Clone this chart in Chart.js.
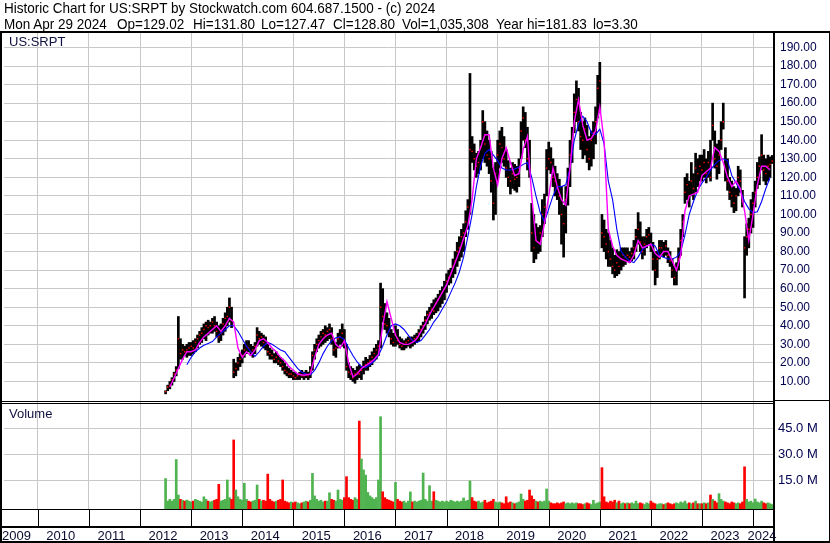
<!DOCTYPE html>
<html><head><meta charset="utf-8">
<script src="https://cdn.jsdelivr.net/npm/chart.js@4.4.1/dist/chart.umd.min.js"></script>
<style>
html,body{margin:0;padding:0;background:#fff;}
#wrap{position:relative;width:830px;height:543px;overflow:hidden;font-family:"Liberation Sans",Arial,sans-serif;background:#fff;}
canvas{position:absolute;left:0;top:0;}
.t{position:absolute;white-space:pre;font-size:15px;line-height:15px;color:#000;transform-origin:0 0;transform:scaleX(0.9);}
.lbl{position:absolute;white-space:pre;font-size:13px;line-height:13px;color:#101040;}
</style></head>
<body><div id="wrap"><canvas id="c" width="830" height="543"></canvas>
<div class="t" style="left:4px;top:0px">Historic Chart for US:SRPT by Stockwatch.com 604.687.1500 - (c) 2024</div>
<div class="t" style="left:4px;top:16px">Mon Apr 29 2024</div>
<div class="t" style="left:117px;top:16px">Op=129.02</div>
<div class="t" style="left:193px;top:16px">Hi=131.80</div>
<div class="t" style="left:261px;top:16px">Lo=127.47</div>
<div class="t" style="left:333px;top:16px">Cl=128.80</div>
<div class="t" style="left:402px;top:16px">Vol=1,035,308</div>
<div class="t" style="left:496px;top:16px">Year hi=181.83</div>
<div class="t" style="left:593px;top:16px">lo=3.30</div>
<div class="lbl" style="left:9px;top:35px">US:SRPT</div>
<div class="lbl" style="left:9px;top:407px">Volume</div>
</div>
<script>
// ---- data (half-month bars starting mid 2012) ----
const barStart = 2012.5;
const barStep = 1 / 24;
const lo = [
3.3,5,6,8,10,13,17,22,22,24,23,24,
24,25,26,28,30,31,33,32,35,36,36,37,
34,31,32,35,37,40,42,39,12,13,16,18,
20,23,25,26,24,23,25,29,30,29,28,27,
24,22,22,20,20,19,18,16,14,13,12,12,
11,11,11,11,12,11,12,11,12,16,22,26,
28,29,30,31,32,33,30,24,23,28,30,29,
28,16,12,11,10,9,11,12,11,14,16,16,
18,19,21,22,24,28,42,38,36,34,30,29,
29,30,28,27,27,28,29,28,29,30,31,32,
34,36,38,41,43,44,46,47,48,50,52,54,
58,62,63,66,68,72,75,77,80,88,92,100,
128,124,120,122,124,130,128,126,122,112,97,100,
118,125,128,126,120,115,111,114,113,112,115,130,
140,136,124,120,80,74,76,79,80,88,95,110,
124,122,115,110,108,100,84,77,90,105,115,128,
144,150,145,135,130,132,128,124,126,130,138,152,
155,82,80,76,72,72,68,66,67,68,70,72,
73,75,74,75,76,80,84,80,76,78,82,84,
80,70,62,66,76,78,77,78,74,72,66,62,
62,70,78,88,106,108,104,110,108,112,115,118,
118,120,117,120,118,140,125,119,122,135,146,118,
113,108,104,101,102,110,112,104,55,78,82,90,
93,104,114,116,124,118,116,118,120,127.47];
const hi = [
5,8,10,12,15,18,45,33,30,29,30,31,
31,32,33,35,37,39,41,42,43,42,44,45,
42,40,41,44,47,50,55,50,22,20,23,25,
27,30,32,32,30,29,31,39,37,36,35,34,
30,28,27,25,26,24,23,22,20,18,17,16,
15,15,14,15,16,15,16,15,18,26,30,33,
35,37,38,40,39,41,39,33,31,36,38,41,
38,30,20,18,17,16,18,19,18,21,23,22,
24,26,28,30,32,63,60,52,47,44,38,36,
40,38,34,33,32,33,34,34,34,35,36,38,
40,42,45,48,50,52,54,55,57,59,61,64,
68,70,71,76,80,85,88,92,95,102,108,176,
142,138,133,134,140,156,150,145,140,134,125,128,
140,145,147,142,135,129,125,128,127,126,130,150,
158,155,147,140,106,100,95,93,94,108,111,135,
139,136,130,126,122,119,115,105,115,125,140,147,
165,172,168,155,150,152,148,142,145,150,158,175,
182,100,97,92,90,86,82,78,81,80,82,82,
82,82,80,82,86,92,101,96,88,88,92,93,
90,85,80,80,86,86,85,86,82,80,76,72,
74,82,92,100,120,122,118,128,122,133,130,132,
132,135,130,134,140,160,145,138,140,150,160,136,
130,120,118,115,114,126,124,113,88,95,98,108,
112,118,128,131,143,132,130,132,131,131.8];
const cl = [
4.5,7,8,11,14,16,33,25,27,26,27,28,
29,28,31,33,35,36,38,40,39,40,42,40,
37,34,36,41,44,45,50,43,15,17,20,22,
24,27,29,28,26,27,29,35,33,34,31,30,
26,25,24,22,23,21,20,18,16,15,14,14,
13,12,13,14,13,13,14,13,16,24,27,30,
32,34,36,35,37,38,33,27,28,33,34,36,
31,18,15,14,12,14,15,14,16,18,19,20,
21,23,25,27,29,50,45,41,40,37,33,31,
35,32,30,29,30,31,32,33,32,33,34,36,
38,40,43,46,47,49,48,52,54,56,58,60,
64,66,68,72,75,80,82,88,90,96,104,135,
134,130,126,128,136,150,138,132,130,118,106,122,
132,138,136,130,125,120,118,122,119,120,125,145,
152,140,130,125,90,82,86,85,90,100,104,125,
130,128,120,118,114,110,100,95,108,120,132,140,
155,162,150,142,140,146,135,130,140,144,150,168,
172,90,88,84,80,76,72,70,74,72,76,78,
77,78,77,79,82,88,92,85,80,84,88,89,
84,76,70,76,82,82,80,83,78,75,70,66,
70,76,86,96,112,116,110,118,114,125,122,126,
124,128,122,128,120,148,130,126,132,140,150,124,
118,112,110,106,110,120,118,107,82,88,92,100,
106,112,120,126,132,124,122,126,127,128.8];
// volume in millions
const vol = [
16,3,4,3,4,27,6.5,4,3.5,3,3.6,3,
2.5,3,4,3.5,3,2.5,5.5,4,3,2.5,3,3.5,
4,12.7,3,3.5,4,15.2,5,4,38.3,9.4,5.5,4,
3.5,13.3,4,3,2.5,3,3.5,12.3,4,3,3.5,3,
18.6,4,3,2.5,3,3.5,4,15.2,3,2.5,2,2.5,
2,2.5,2,1.5,2,2.5,3,2.5,3.5,19,6,4,
3,3.5,2.5,3,3,7.8,4,3.5,3,9.4,4,3.5,
5,17.1,5,4,3.5,5,4,49.2,27.3,21,18,8,
6,5,4,5,15.2,51.7,8.4,5,4,3.5,3,2.5,
13.8,4,3,2.5,3,2,3,8.3,2.5,3,2.5,3,
3.5,19.2,4,3,11.9,3,8.4,3.5,3,2.5,3,2.5,
3,2.5,3.5,3,2.5,3,2.5,3,4.8,3,3.5,14.6,
5,3,2.5,3,2,2.5,3.5,2,2.5,3,4,2.5,
2,2.5,2,1.5,5.5,2,2.5,2,1.5,2,2.5,7.1,
4,3,3.5,9.4,6,4,3,2.5,3,2.5,3,10,
3,2,1.5,1.5,2,1.5,2,2.5,1.5,2,1.5,2,
1.5,2,1.5,1.5,1,1.5,2,1.5,1,3.5,1.5,2,
2.5,22.3,5.5,2.5,2,3,2.5,3.5,2,3,1.5,2,
1.5,2,1.5,2,1.5,3,1.5,2,1.5,1,2,1.5,
3,2,1.5,1,1.5,1.5,1,1.5,2,1.5,1,1.5,
2,1.5,2.5,2,3,1.5,2,1.5,2,3,1.5,1.5,
1.5,2,1.5,2,6.5,4,3,2,7.3,4,3,2.5,
2,1.5,2.5,2,1.5,2,1.5,2.5,22.8,4,2.5,3,
2,4.2,2.5,2,3,2,1.5,2,1.5,1];
// moving averages, monthly samples from mid 2012
const maStart = 2012.5;
const maStep = 1 / 12;
const maFast = [
null,7,12,17,22,26,26,27,31,34,36,38,
40,37,40,44,42,28,23,26,24,27,32,33,
31,28,26,23,21,18,16,14,13.5,13.5,14,23,
30,33,35,36,30,28,32,20,12.5,14,17,18.5,
20,22,24.5,40,53,44,35,31,30,30,31,33,
37,41,46,50,54,58,62,68,74,80,87,94,
108,130,136,143,143,125,116,130,136,128,121,122,
135,142,110,86,84,95,110,125,115,108,105,125,
150,162,148,140,141,145,158,140,92,83,78,76,
75,74,78,86,82,83,84,79,77,80,80,75,
70,78,102,110,111,112,121,123,125,136,134,128,
120,115,118,114,102,86,100,116,126,126,124];
const maSlow = [
null,null,null,null,null,19,23,26,28,29.5,30.5,31.5,
34,36,38,40,40,37,33,29,26,23.5,26,29,
31,30,28.5,27,26,23,20,17,15,14,13.5,16,
20,25,29,32,33.5,34,32.5,28,24,20.5,18,17.5,
19,21,24,29,35,40,41,40,38,35,32,31,
32,35,38,42,45,49,53,58,63,69,77,88,
100,115,126,133,135,132,129,125,124,124,124.5,125.5,
127,128,120,110,101,96,103,110,115,115,116,125,
140,149,153,150,144,143,146,138,118,108,92,80,
77,75,74,77,81,83,84,83,78,77,76,76,
77,80,89,100,107,113,117,120,124,127,129,130,
129,121,117,113,107,103,101,101.5,107,114,120];
// axes
const years = ['2009','2010','2011','2012','2013','2014','2015','2016','2017','2018','2019','2020','2021','2022','2023','2024'];
const priceTicks = [10,20,30,40,50,60,70,80,90,100,110,120,130,140,150,160,170,180,190];
const volTicks = [15,30,45];
const X_MIN = 2009.337, X_MAX = 2024.39;
const P_MIN = -1.08, P_MAX = 197.8;
const V_MIN = -1.56, V_MAX = 60.2;

// ---- build datasets ----
const xBar = i => barStart + i * barStep;
const priceBars = hi.map((h, i) => ({x: xBar(i), y: [lo[i], h]}));
const closePts = cl.map((c, i) => ({x: xBar(i), y: c}));
const volBars = vol.map((v, i) => ({x: xBar(i), y: v}));
const GREEN = '#4fb34f', RED = '#ff0000';
const volColors = vol.map((v, i) => (i === 0 || cl[i] >= cl[i - 1]) ? GREEN : RED);
const maPts = arr => arr.map((v, j) => ({x: maStart + j * maStep, y: v})).filter(p => p.y !== null);
const yearStarts = years.slice(1).map(Number);

const frame = {
  id: 'frame',
  afterDraw(chart) {
    const ctx = chart.ctx, xs = chart.scales.x, ca = chart.chartArea;
    const sep = Math.round(chart.scales.y.bottom);
    const R = Math.round(ca.right), B = Math.round(ca.bottom);
    ctx.save();
    ctx.fillStyle = '#000';
    ctx.fillRect(0, 31, 830, 2);
    ctx.fillRect(0, 31, 2, 512);
    ctx.fillRect(R, 31, 2, 512);
    ctx.fillRect(829, 31, 1, 512);
    ctx.fillRect(0, sep - 1, R, 1);
    ctx.fillRect(0, sep + 1, R, 1);
    ctx.fillRect(R, sep - 2, 830 - R, 1);
    ctx.fillRect(0, B, R, 1);
    ctx.fillRect(0, B + 17, R, 2);
    ctx.fillRect(0, 541, 830, 2);
    yearStarts.forEach(v => {
      const px = Math.round(xs.getPixelForValue(v));
      ctx.fillRect(px, B, 1, 17);
    });
    ctx.font = '13px "Liberation Sans", Arial, sans-serif';
    ctx.fillStyle = '#0a0a30';
    ctx.textBaseline = 'alphabetic';
    ctx.textAlign = 'left';
    years.forEach(lab => {
      const w = ctx.measureText(lab).width;
      let left = xs.getPixelForValue(Number(lab)) + 8.5;
      left = Math.max(2, Math.min(left, R + 3.5 - w));
      ctx.fillText(lab, left, 539.5);
    });
    ctx.restore();
  }
};

Chart.defaults.font.family = '"Liberation Sans", Arial, sans-serif';
new Chart(document.getElementById('c'), {
  type: 'bar',
  data: {
    datasets: [
      {type: 'line', data: maPts(maFast), yAxisID: 'y', borderColor: '#ff00ff', borderWidth: 1.4, pointRadius: 0, tension: 0, order: 1},
      {type: 'line', data: maPts(maSlow), yAxisID: 'y', borderColor: '#0000ff', borderWidth: 1.1, pointRadius: 0, tension: 0, order: 2},
      {type: 'scatter', data: closePts, yAxisID: 'y', pointStyle: 'rect', pointRadius: 1.0, backgroundColor: RED, borderWidth: 0, order: 3},
      {type: 'bar', data: priceBars, yAxisID: 'y', backgroundColor: '#000', barThickness: 2, grouped: false, order: 4},
      {type: 'bar', data: volBars, yAxisID: 'yv', backgroundColor: volColors, barThickness: 2, grouped: false, base: V_MIN, order: 5}
    ]
  },
  options: {
    responsive: false, animation: false, devicePixelRatio: 1,
    layout: {padding: {top: 33, left: 2, right: 0, bottom: 0}},
    plugins: {legend: {display: false}, tooltip: {enabled: false}},
    scales: {
      x: {
        type: 'linear', position: 'bottom', min: X_MIN, max: X_MAX, offset: false,
        grid: {color: '#c8c8c8', drawTicks: false, offset: false}, border: {display: false},
        ticks: {display: false},
        afterBuildTicks: s => { s.ticks = yearStarts.map(v => ({value: v})); },
        afterFit: s => { s.height = 34; }
      },
      y: {
        type: 'linear', position: 'right', stack: 'panes', stackWeight: 369,
        min: P_MIN, max: P_MAX,
        grid: {color: '#c8c8c8', drawTicks: false}, border: {display: false},
        afterBuildTicks: s => { s.ticks = priceTicks.map(v => ({value: v})); },
        ticks: {autoSkip: false, callback: v => Number(v).toFixed(2), color: '#000050', font: {size: 12}, padding: 7},
        afterFit: s => { s.width = 57; }
      },
      yv: {
        type: 'linear', position: 'right', stack: 'panes', stackWeight: 107,
        min: V_MIN, max: V_MAX,
        grid: {color: '#c8c8c8', drawTicks: false}, border: {display: false},
        afterBuildTicks: s => { s.ticks = volTicks.map(v => ({value: v})); },
        ticks: {autoSkip: false, callback: v => Number(v).toFixed(1) + ' M', color: '#000050', font: {size: 13}, padding: 5},
        afterFit: s => { s.width = 57; }
      }
    }
  },
  plugins: [frame]
});
</script>
</body></html>
